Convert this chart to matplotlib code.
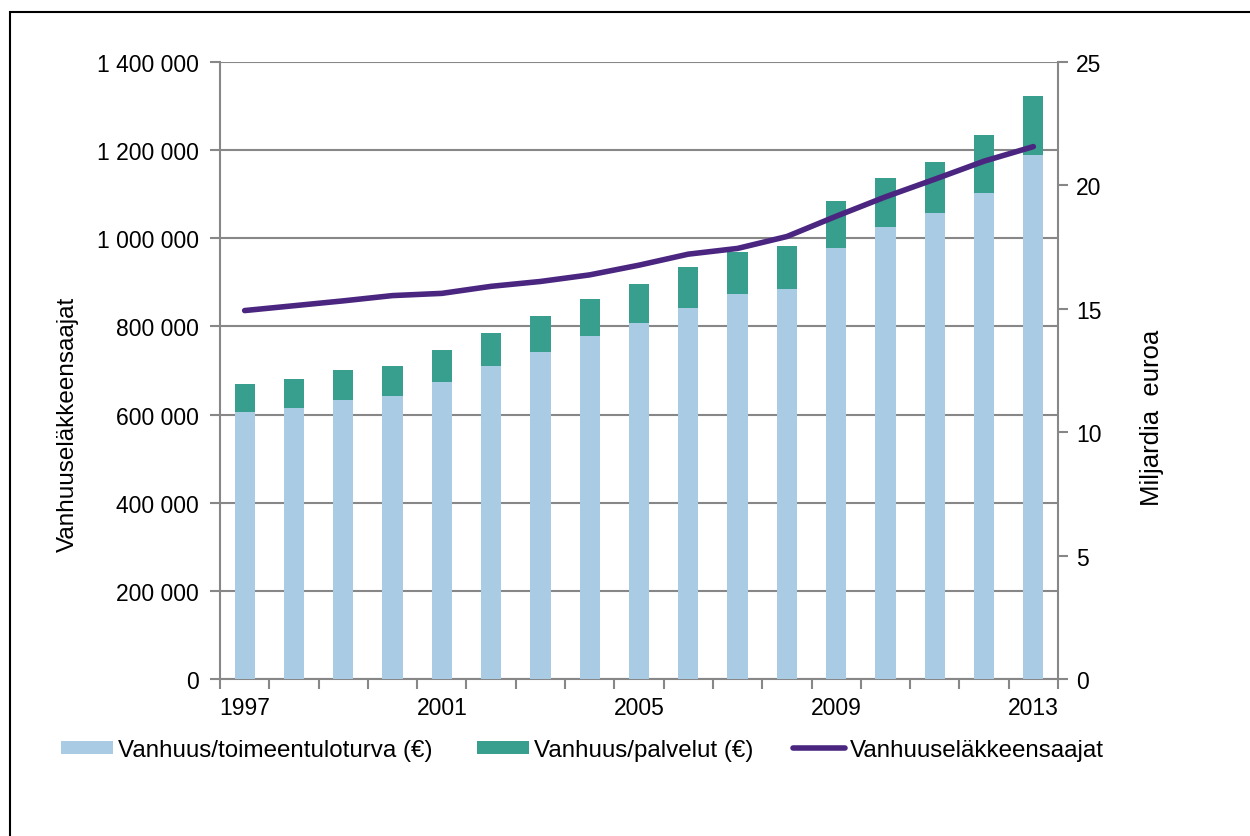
import matplotlib
matplotlib.use("Agg")
import matplotlib.pyplot as plt
import numpy as np
from matplotlib.ticker import FuncFormatter, FixedLocator
from matplotlib.patches import Patch, Rectangle
from matplotlib.lines import Line2D

years = list(range(1997, 2014))
year_labels = ["1997", "2001", "2005", "2009", "2013"]

# Miljardia euroa (right axis)
toimeentuloturva = [10.81, 10.98, 11.32, 11.45, 12.03, 12.67, 13.25, 13.90, 14.42,
                    15.03, 15.60, 15.81, 17.46, 18.33, 18.88, 19.70, 21.22]
kokonais = [11.97, 12.16, 12.53, 12.70, 13.33, 14.03, 14.70, 15.40, 15.99,
            16.68, 17.30, 17.53, 19.36, 20.31, 20.94, 22.03, 23.63]
palvelut = [round(k - t, 2) for k, t in zip(kokonais, toimeentuloturva)]

# Vanhuuseläkkeensaajat (left axis)
saajat = [836000, 847000, 858000, 870000, 875000, 891000, 902000, 917000, 939000,
          964000, 977000, 1004000, 1050000, 1094000, 1134000, 1175000, 1208000]

c_light = "#A9CCE4"
c_teal = "#389E8E"
c_line = "#4B2680"
c_grid = "#878787"

plt.rcParams['font.family'] = ['Liberation Sans', 'DejaVu Sans']
fs = 16.5
fs_leg = 17.4

W, H = 1250, 837
fig = plt.figure(figsize=(W / 100, H / 100), dpi=100)
pos = [220 / W, 1 - 680 / H, (1058 - 220) / W, (680 - 63) / H]

axG = fig.add_axes(pos)
axG.set_zorder(0)
axB = axG.twinx()
axB.set_zorder(1)
axB.patch.set_visible(False)
axL = fig.add_axes(pos, sharex=axG, sharey=axG)
axL.set_zorder(2)
axL.patch.set_visible(False)
axL.axis('off')

x = np.arange(len(years))

# grid / left axis
axG.set_ylim(0, 1400000)
axG.set_yticks(np.arange(0, 1400001, 200000))
axG.yaxis.set_major_formatter(FuncFormatter(lambda v, p: f"{int(v):,}".replace(",", " ")))
axG.grid(axis='y', color=c_grid, linewidth=1.5)
axG.set_axisbelow(True)
axG.set_xlim(-0.5, len(years) - 0.5)
axG.xaxis.set_major_locator(FixedLocator([years.index(int(y)) for y in year_labels]))
axG.set_xticklabels(year_labels)
axG.xaxis.set_minor_locator(FixedLocator(np.arange(-0.5, len(years), 1.0)))
axG.tick_params(axis='x', which='major', length=0, pad=12, labelsize=fs)
axG.tick_params(axis='x', which='minor', length=7, width=1.5, color=c_grid, direction='out')
axG.tick_params(axis='y', length=7, width=1.5, color=c_grid, pad=8, labelsize=fs)
for s in ['top', 'right']:
    axG.spines[s].set_visible(False)
for s in ['left', 'bottom']:
    axG.spines[s].set_color(c_grid)
    axG.spines[s].set_linewidth(1.5)

# bars / right axis
axB.bar(x, toimeentuloturva, width=0.41, color=c_light, linewidth=0)
axB.bar(x, palvelut, width=0.41, bottom=toimeentuloturva, color=c_teal, linewidth=0)
axB.set_ylim(0, 25)
axB.set_yticks(np.arange(0, 26, 5))
axB.tick_params(axis='y', length=7, width=1.5, color=c_grid, pad=6, labelsize=fs)
for s in ['top', 'left', 'bottom']:
    axB.spines[s].set_visible(False)
axB.spines['right'].set_color(c_grid)
axB.spines['right'].set_linewidth(1.5)

# line
axL.plot(x, saajat, color=c_line, linewidth=4.0, solid_capstyle='round')

# axis labels
fig.text(68 / W, 1 - 424 / H, "Vanhuuseläkkeensaajat", rotation=90, ha='center', va='center', fontsize=17.5)
fig.text(1152 / W, 1 - 418 / H, "Miljardia  euroa", rotation=90, ha='center', va='center', fontsize=18.5)

# legend entries
ly = 1 - 751 / H
entries = [
    (61, Patch(facecolor=c_light, edgecolor='none'), "Vanhuus/toimeentuloturva (€)"),
    (477, Patch(facecolor=c_teal, edgecolor='none'), "Vanhuus/palvelut (€)"),
    (793, Line2D([0], [0], color=c_line, linewidth=4.0, solid_capstyle='round'), "Vanhuuseläkkeensaajat"),
]
for x0, h, lab in entries:
    fig.legend(handles=[h], labels=[lab], loc='center left', bbox_to_anchor=(x0 / W, ly),
               frameon=False, fontsize=fs_leg, handlelength=2.15, handleheight=0.5,
               handletextpad=0.2, borderpad=0, borderaxespad=0)

# outer frame
fig.patches.append(Rectangle((10 / W, -0.1), 1.2, 1 - 13 / H + 0.1, transform=fig.transFigure,
                             fill=False, edgecolor='black', linewidth=1.5))

fig.savefig("out.png", dpi=100)
